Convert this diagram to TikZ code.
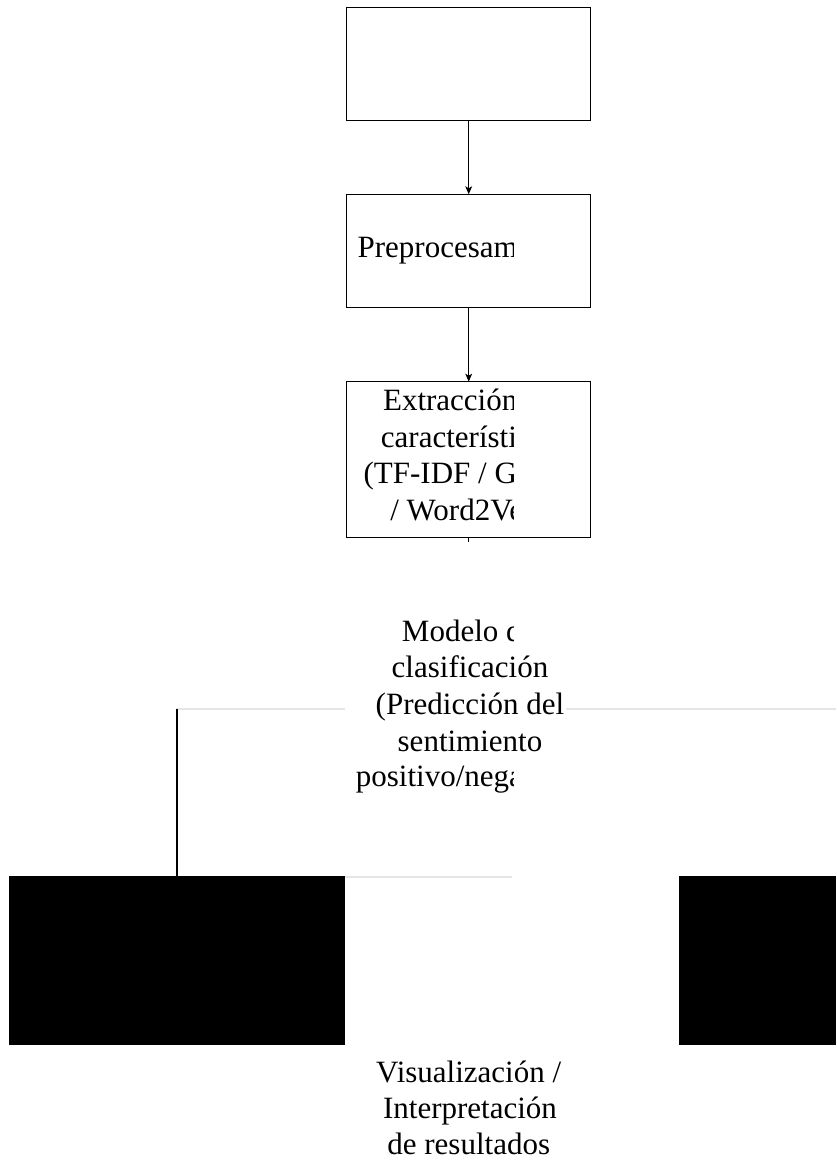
\documentclass[tikz,border=0pt]{standalone}
\usepackage{fontspec}
\setmainfont{Liberation Serif}
\usetikzlibrary{arrows.meta}
\definecolor{faint}{HTML}{E6E6E6}
\tikzset{
  stepbox/.style={draw=black, line width=0.55pt, minimum width=122pt, inner sep=0pt, outer sep=0pt},
  flow/.style={draw=black, line width=0.5pt, -{Stealth[length=4pt,width=3.4pt,inset=1pt]}},
  lbl/.style={anchor=base, inner sep=0pt, outer sep=0pt, font=\fontsize{15.5pt}{18pt}\selectfont},
  faintline/.style={draw=faint, line width=0.55pt},
  slab/.style={fill=black, draw=none, inner sep=0pt, outer sep=0pt},
}
\begin{document}
\begin{tikzpicture}[x=0.5pt,y=-0.5pt]
\useasboundingbox (0,0) rectangle (836,1160);
% boxes
\node[stepbox, minimum height=56.25pt] (b1) at (468.7,64) {};
\node[stepbox, minimum height=56.4pt] (b2) at (468.7,250.7) {};
\node[stepbox, minimum height=78pt] (b3) at (468.7,459.7) {};
\draw[flow] (b1.south) -- (b2.north);
\draw[flow] (b2.south) -- (b3.north);
\coordinate (stub) at (468.7,541.5);
\draw[line width=0.5pt] (b3.south) -- (stub);
% faint lines
\coordinate (g1a) at (176,709);
\coordinate (g1b) at (345,709);
\coordinate (g2a) at (566,709);
\coordinate (g2b) at (836,709);
\coordinate (g3a) at (345,877);
\coordinate (g3b) at (512,877);
\draw[faintline] (g1a) -- (g1b);
\draw[faintline] (g2a) -- (g2b);
\draw[faintline] (g3a) -- (g3b);
% black slabs
\node[slab, minimum width=168pt, minimum height=84.5pt] (s1) at (177,960.5) {};
\node[slab, minimum width=78.5pt, minimum height=84.5pt] (s2) at (757.5,960.5) {};
\coordinate (hub) at (177,709);
\draw[line width=0.85pt] (hub) -- (s1.north);
% clipped labels
\begin{scope}
\clip (0,0) rectangle (513,1160);
\node[lbl] (t2) at (468.7,258) {Preprocesamiento};
\node[lbl] (t3a) at (468.7,410.7) {Extracción de};
\node[lbl] (t3b) at (468.7,447) {características};
\node[lbl] (t3c) at (468.7,483.5) {(TF-IDF / GloVe};
\node[lbl] (t3d) at (468.7,520) {/ Word2Vec)};
\node[lbl] (m1) at (468.7,641) {Modelo de};
\node[lbl] (m5) at (468.7,786) {positivo/negativo)};
\end{scope}
% unclipped labels
\node[lbl] (m2) at (470,677.5) {clasificación};
\node[lbl] (m3) at (470,714.5) {(Predicción del};
\node[lbl] (m4) at (470,751) {sentimiento};
\node[lbl] (v1) at (468.7,1082) {Visualización /};
\node[lbl] (v2) at (470,1118) {Interpretación};
\node[lbl] (v3) at (468.7,1154) {de resultados};
\end{tikzpicture}
\end{document}
